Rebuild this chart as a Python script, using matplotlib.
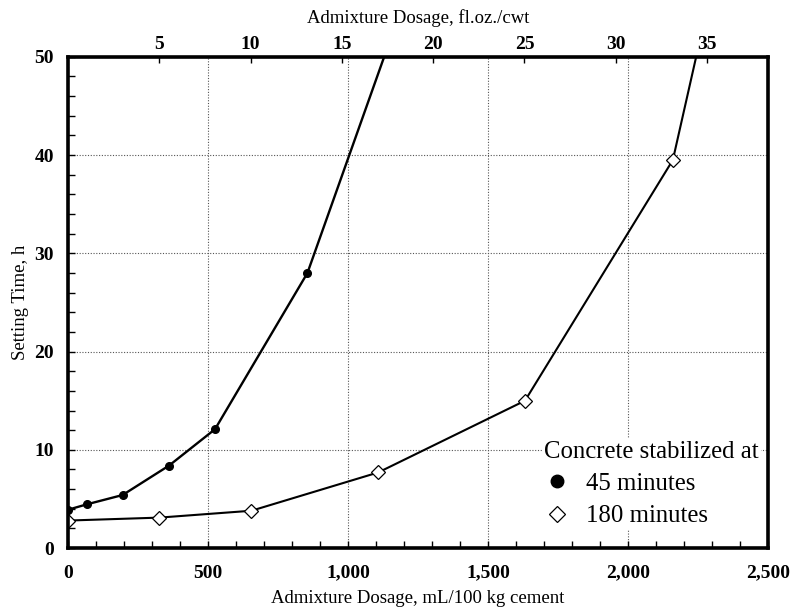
import matplotlib
matplotlib.use('Agg')
import matplotlib.pyplot as plt
from matplotlib.lines import Line2D
from matplotlib.ticker import MultipleLocator, FuncFormatter

plt.rcParams['font.family'] = ['Liberation Serif', 'DejaVu Serif']

# dosage in mL/100 kg cement vs. setting time in hours
dose_45 = [0, 67, 195, 361, 525, 855, 1200]
time_45 = [3.9, 4.45, 5.4, 8.4, 12.1, 28.0, 55.7]
dose_180 = [0, 326, 655, 1108, 1632, 2160, 2290]
time_180 = [2.8, 3.1, 3.8, 7.7, 15.0, 39.5, 55.9]

floz_ticks = [5, 10, 15, 20, 25, 30, 35]
ML_PER_FLOZ = 65.2  # mL/100 kg per fl.oz./cwt

fig = plt.figure(figsize=(7.91, 6.11), dpi=100)
ax = fig.add_axes([0.086, 0.103, 0.885, 0.804])

ax.plot(dose_45, time_45, color='black', lw=1.7, marker='o', ms=5.5,
        mfc='black', mec='black', zorder=2)
ax.plot(dose_180, time_180, color='black', lw=1.5, marker='D', ms=7,
        mfc='white', mec='black', mew=0.9, zorder=2)

ax.set_xlim(0, 2500)
ax.set_ylim(0, 50)
ax.xaxis.set_major_locator(MultipleLocator(500))
ax.xaxis.set_minor_locator(MultipleLocator(100))
ax.yaxis.set_major_locator(MultipleLocator(10))
ax.yaxis.set_minor_locator(MultipleLocator(2))
ax.xaxis.set_major_formatter(FuncFormatter(lambda v, p: f'{int(v):,}'))

ax.grid(True, which='major', linestyle=(0, (1, 1.5)), color='#555555', lw=0.8)
ax.tick_params(which='both', direction='in', top=False, right=False,
               width=1.0, labelsize=14)
ax.tick_params(which='major', length=5)
ax.tick_params(which='minor', length=5)
ax.tick_params(axis='x', pad=12)
ax.tick_params(axis='y', pad=10)
for lab in ax.get_xticklabels() + ax.get_yticklabels():
    lab.set_fontweight('bold')

for sp in ax.spines.values():
    sp.set_linewidth(2.6)
    sp.set_zorder(4)

ax.set_xlabel('Admixture Dosage, mL/100 kg cement', fontsize=13.5, labelpad=6)
ax.set_ylabel('Setting Time, h', fontsize=13.5, labelpad=4)

top = ax.secondary_xaxis('top', functions=(lambda x: x / ML_PER_FLOZ,
                                           lambda x: x * ML_PER_FLOZ))
top.set_xticks(floz_ticks)
top.tick_params(direction='in', length=4, width=1.0, labelsize=14, pad=3)
for lab in top.get_xticklabels():
    lab.set_fontweight('bold')
top.set_xlabel('Admixture Dosage, fl.oz./cwt', fontsize=13.5, labelpad=9)

handles = [
    Line2D([], [], ls='none', marker='o', ms=9, mfc='black', mec='black'),
    Line2D([], [], ls='none', marker='D', ms=8, mfc='white', mec='black', mew=0.9),
]
leg = ax.legend(handles, ['45 minutes', '180 minutes'],
                title='Concrete stabilized at', loc='lower right',
                bbox_to_anchor=(1.008, 0.012), fontsize=17.8, title_fontsize=17.8,
                frameon=True, fancybox=False, framealpha=1, edgecolor='none',
                handlelength=1.0, handletextpad=0.7, labelspacing=0.4,
                borderpad=0.1, alignment='left')
leg.set_zorder(5)

fig.savefig('out.png', dpi=100)
